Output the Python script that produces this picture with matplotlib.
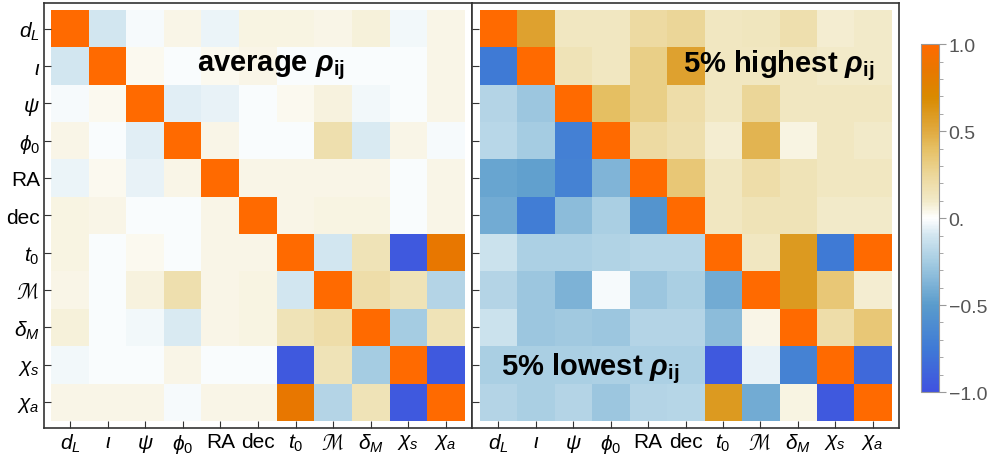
import numpy as np
import matplotlib
matplotlib.use("Agg")
import matplotlib.pyplot as plt
from matplotlib.colors import LinearSegmentedColormap
from matplotlib.ticker import MultipleLocator

plt.rcParams["font.family"] = ["Liberation Sans", "DejaVu Sans"]
plt.rcParams["mathtext.fontset"] = "custom"
plt.rcParams["mathtext.rm"] = "Liberation Sans"
plt.rcParams["mathtext.it"] = "Liberation Sans:italic"
plt.rcParams["mathtext.bf"] = "Liberation Sans:bold"
plt.rcParams["mathtext.bfit"] = "Liberation Sans:bold:italic"

labels = [r"$d_L$", r"$\iota$", r"$\psi$", r"$\phi_0$", "RA", "dec",
          r"$t_0$", r"$\mathcal{M}$", r"$\delta_M$", r"$\chi_s$", r"$\chi_a$"]

# average correlation matrix (symmetric)
avg_rho = np.array([
    [1.00, -0.10, -0.02, 0.04, -0.04, 0.05, 0.05, 0.04, 0.07, -0.03, 0.04],
    [-0.10, 1.00, 0.03, -0.01, 0.03, 0.04, -0.01, -0.01, -0.01, -0.01, 0.04],
    [-0.02, 0.03, 1.00, -0.07, -0.05, -0.01, 0.03, 0.06, -0.03, -0.01, 0.04],
    [0.04, -0.01, -0.07, 1.00, 0.04, -0.01, -0.01, 0.18, -0.08, 0.04, -0.02],
    [-0.04, 0.03, -0.05, 0.04, 1.00, 0.04, 0.04, 0.04, 0.04, -0.01, 0.04],
    [0.05, 0.04, -0.01, -0.01, 0.04, 1.00, 0.04, 0.05, 0.05, -0.01, 0.04],
    [0.05, -0.01, 0.03, -0.01, 0.04, 0.04, 1.00, -0.10, 0.15, -0.95, 0.85],
    [0.04, -0.01, 0.06, 0.18, 0.04, 0.05, -0.10, 1.00, 0.20, 0.15, -0.20],
    [0.07, -0.01, -0.03, -0.08, 0.04, 0.05, 0.15, 0.20, 1.00, -0.25, 0.15],
    [-0.03, -0.01, -0.01, 0.04, -0.01, -0.01, -0.95, 0.15, -0.25, 1.00, -0.95],
    [0.04, 0.04, 0.04, -0.02, 0.04, 0.04, 0.85, -0.20, 0.15, -0.95, 1.00],
])

# upper triangle: 5% highest, lower triangle: 5% lowest
ext_rho = np.array([
    [1.00, 0.55, 0.12, 0.12, 0.22, 0.25, 0.12, 0.13, 0.18, 0.08, 0.10],
    [-0.75, 1.00, 0.15, 0.12, 0.30, 0.55, 0.12, 0.12, 0.12, 0.10, 0.10],
    [-0.20, -0.28, 1.00, 0.40, 0.30, 0.20, 0.12, 0.25, 0.12, 0.12, 0.12],
    [-0.18, -0.25, -0.70, 1.00, 0.22, 0.18, 0.08, 0.45, 0.05, 0.12, 0.10],
    [-0.45, -0.47, -0.68, -0.37, 1.00, 0.35, 0.12, 0.20, 0.15, 0.12, 0.12],
    [-0.42, -0.72, -0.33, -0.23, -0.55, 1.00, 0.12, 0.15, 0.15, 0.10, 0.10],
    [-0.12, -0.22, -0.22, -0.21, -0.19, -0.19, 1.00, 0.12, 0.60, -0.75, 1.00],
    [-0.20, -0.28, -0.38, -0.02, -0.28, -0.23, -0.42, 1.00, 0.60, 0.35, 0.08],
    [-0.12, -0.28, -0.26, -0.28, -0.20, -0.20, -0.33, 0.04, 1.00, 0.20, 0.35],
    [-0.23, -0.23, -0.23, -0.22, -0.22, -0.22, -0.95, -0.05, -0.68, 1.00, -0.85],
    [-0.20, -0.23, -0.20, -0.28, -0.20, -0.19, 0.60, -0.42, 0.05, -0.95, 1.00],
])

cmap = LinearSegmentedColormap.from_list("temp", [
    (0.000, "#4052e0"),
    (0.125, "#3f7ad6"),
    (0.250, "#5a9ccc"),
    (0.375, "#a5cce2"),
    (0.450, "#d2e6f0"),
    (0.500, "#ffffff"),
    (0.550, "#f2eac8"),
    (0.625, "#ecd79a"),
    (0.700, "#e6c064"),
    (0.750, "#e0aa40"),
    (0.850, "#d98a00"),
    (0.925, "#e87800"),
    (1.000, "#ff6a00"),
])

fig = plt.figure(figsize=(9.95, 4.56), dpi=100)
ax1 = fig.add_axes([0.0442, 0.0592, 0.4302, 0.933])
ax2 = fig.add_axes([0.4744, 0.0592, 0.4291, 0.933])
cax = fig.add_axes([0.9256, 0.138, 0.0181, 0.763])

n = len(labels)
for ax, mat in ((ax1, avg_rho), (ax2, ext_rho)):
    im = ax.imshow(mat, cmap=cmap, vmin=-1, vmax=1, aspect="auto",
                   interpolation="nearest")
    ax.set_xlim(-0.7, n - 0.3)
    ax.set_ylim(n - 0.3, -0.7)
    ax.set_xticks(range(n))
    ax.set_xticklabels(labels, fontsize=15)
    ax.set_yticks(range(n))
    ax.tick_params(direction="in", length=5, width=0.8, color="#333333", pad=3)
    for s in ax.spines.values():
        s.set_color("#333333")
        s.set_linewidth(1.2)

ax1.set_yticklabels(labels, fontsize=15)
ax2.set_yticklabels([])

ax1.text(0.357, 0.85, r"average $\mathbfit{\rho}_{\mathbf{ij}}$",
         transform=ax1.transAxes, fontsize=21, fontweight="bold", va="center")
ax2.text(0.494, 0.855, r"5% highest $\mathbfit{\rho}_{\mathbf{ij}}$",
         transform=ax2.transAxes, fontsize=21, fontweight="bold", va="center")
ax2.text(0.068, 0.142, r"5% lowest $\mathbfit{\rho}_{\mathbf{ij}}$",
         transform=ax2.transAxes, fontsize=21, fontweight="bold", va="center")

cb = fig.colorbar(im, cax=cax)
cb.set_ticks([-1.0, -0.5, 0.0, 0.5, 1.0])
cb.set_ticklabels(["\u22121.0", "\u22120.5", "0.", "0.5", "1.0"])
cb.ax.yaxis.set_minor_locator(MultipleLocator(0.1))
cb.ax.tick_params(which="major", length=5, width=0.8, color="#999999",
                  labelcolor="#555555", labelsize=14, pad=2)
cb.ax.tick_params(which="minor", length=3, width=0.6, color="#999999")
cb.outline.set_edgecolor("#999999")
cb.outline.set_linewidth(0.8)

fig.savefig("out.png", dpi=100)
